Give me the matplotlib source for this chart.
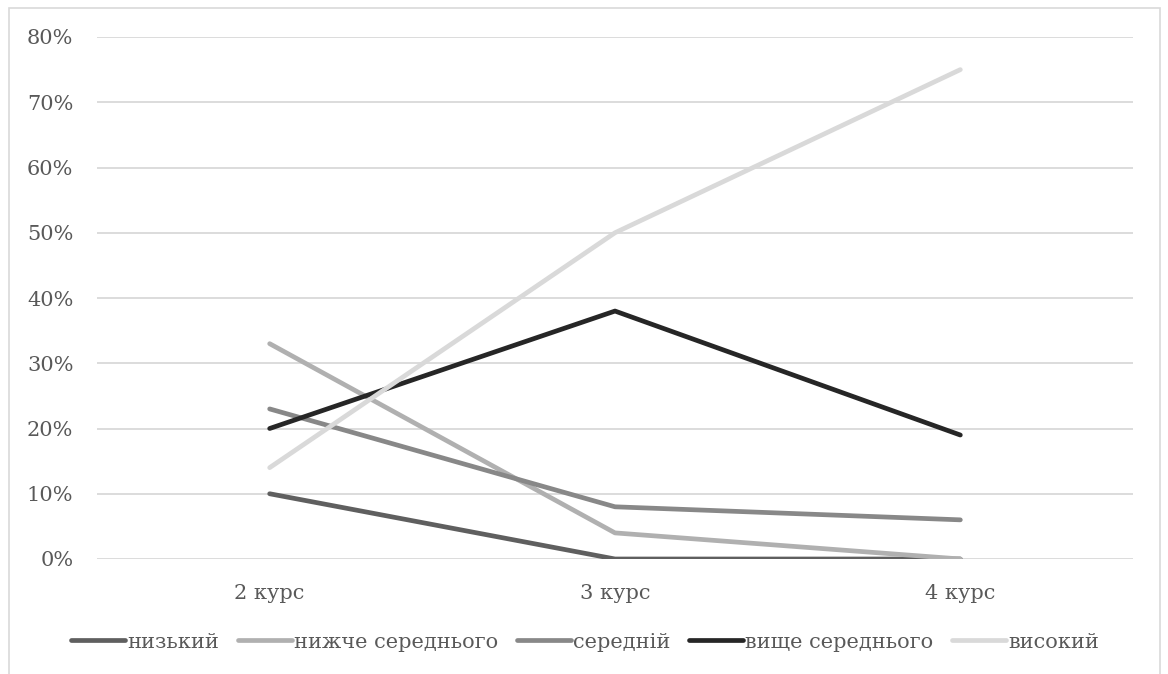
import matplotlib
matplotlib.use("Agg")
import matplotlib.pyplot as plt
from matplotlib.patches import Rectangle
from matplotlib.ticker import PercentFormatter

plt.rcParams['font.family'] = ['DejaVu Serif']

courses = ["2 курс", "3 курс", "4 курс"]
series_names = ["низький", "нижче середнього", "середній", "вище середнього", "високий"]
low = [0.10, 0.00, 0.00]
below_avg = [0.33, 0.04, 0.00]
average = [0.23, 0.08, 0.06]
above_avg = [0.20, 0.38, 0.19]
high = [0.14, 0.50, 0.75]
colors = ["#5f5f5f", "#b0b0b0", "#888888", "#262626", "#d9d9d9"]

text_col = "#595959"

fig = plt.figure(figsize=(11.68, 6.74), dpi=100)
ax = fig.add_axes([97/1168, 1 - 559/674, (1133 - 97)/1168, (559 - 37)/674])

x = range(len(courses))
for vals, name, c in zip([low, below_avg, average, above_avg, high], series_names, colors):
    ax.plot(x, vals, color=c, lw=3.4, solid_capstyle="round", solid_joinstyle="round", label=name)

ax.set_xlim(-0.5, 2.5)
ax.set_ylim(0, 0.8)
ax.set_yticks([i / 10 for i in range(9)])
ax.yaxis.set_major_formatter(PercentFormatter(1.0, decimals=0))
ax.set_xticks(list(x))
ax.set_xticklabels(courses)
ax.grid(axis="y", color="#d9d9d9", lw=1.3)
ax.set_axisbelow(True)
for s in ax.spines.values():
    s.set_visible(False)
ax.tick_params(length=0, labelsize=15, colors=text_col)
ax.tick_params(axis="x", pad=18)
ax.tick_params(axis="y", pad=17)

fig.legend(loc="center", bbox_to_anchor=(585/1168, 1 - 642/674), ncol=5, frameon=False,
           fontsize=15, labelcolor=text_col, handlelength=2.6, handletextpad=0.1,
           columnspacing=0.9)

# chart frame
fig.patches.append(Rectangle((9/1168, -0.05), (1160 - 9)/1168, 1.05 - 8/674,
                             transform=fig.transFigure, fill=False, ec="#d9d9d9", lw=1.2))

fig.savefig("out.png", dpi=100)
